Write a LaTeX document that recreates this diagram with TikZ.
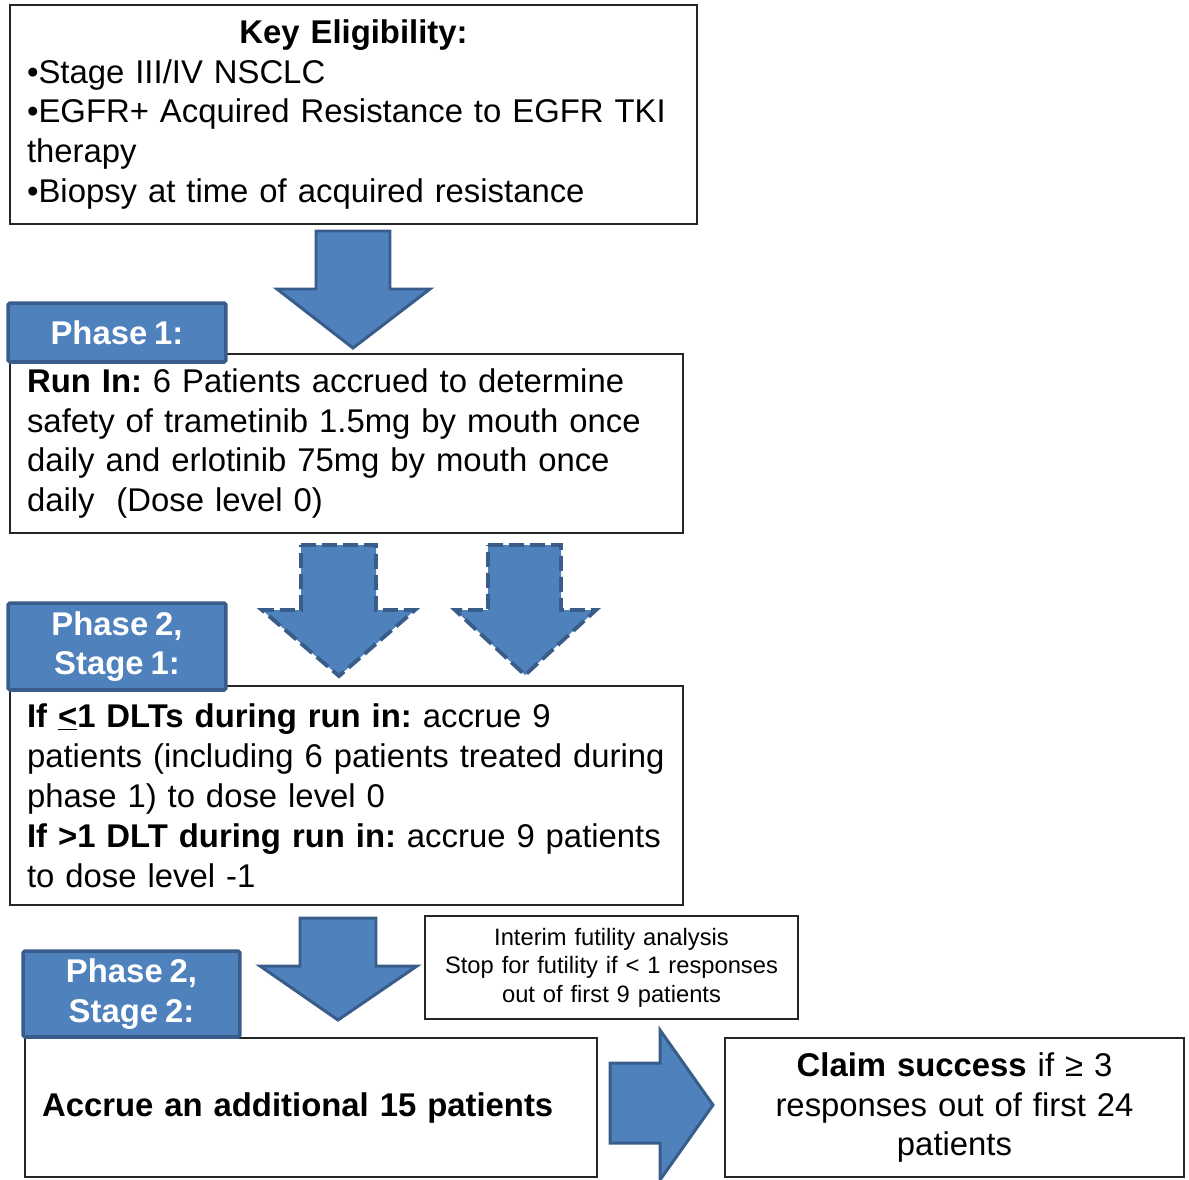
\documentclass[tikz,border=0pt]{standalone}
\usepackage{fontspec}
\setmainfont{Liberation Sans}[WordSpace=0.75]
\frenchspacing
\hyphenpenalty=10000
\definecolor{phasefill}{HTML}{4F81BD}
\definecolor{phaseline}{HTML}{385D8A}
\begin{document}
\begin{tikzpicture}[x=0.02cm,y=-0.02cm,
  txtbox/.style={draw=black!85,line width=0.8pt,fill=white,inner xsep=0.34cm,inner ysep=0pt,
    font=\fontsize{18.7}{22.76}\selectfont},
  phasebox/.style={draw=phaseline,fill=phasefill,line width=2pt,rounded corners=1pt,inner sep=0pt,
    text=white,align=center,font=\fontsize{18.7}{22.3}\selectfont\bfseries},
  bigarrow/.style={draw=phaseline,fill=phasefill,line width=1.7pt,line join=miter},
  dasharrow/.style={bigarrow,line width=2.2pt,dash pattern=on 0.3cm off 0.12cm}]
\useasboundingbox (0,0) rectangle (1189,1179);

%boxes
\node[txtbox,minimum width=13.74cm,minimum height=4.38cm,text width=13.06cm,align=left] (elig) at (353.5,114.5)
 {\makebox[\linewidth]{\bfseries Key Eligibility:}\\
  •Stage III/IV NSCLC\\
  •EGFR+ Acquired Resistance to EGFR TKI\\
  therapy\\
  •Biopsy at time of acquired resistance};
\node[txtbox,minimum width=13.46cm,minimum height=3.58cm,text width=12.78cm,align=left] (runin) at (346.5,443.5)
 {{\bfseries Run In:} 6 Patients accrued to determine\\
  safety of trametinib 1.5mg by mouth once\\
  daily and erlotinib 75mg by mouth once\\
  daily\ \ (Dose level 0)};
\node[txtbox,minimum width=13.46cm,minimum height=4.38cm,text width=12.78cm,align=left] (stageone) at (346.5,795.5)
 {{\bfseries If \underline{<}1 DLTs during run in:} accrue 9\\
  patients (including 6 patients treated during\\
  phase 1) to dose level 0\\
  {\bfseries If >1 DLT during run in:} accrue 9 patients\\
  to dose level -1};
\node[txtbox,minimum width=11.44cm,minimum height=2.78cm,text width=10.76cm,align=left] (stagetwo) at (311,1107.5)
 {\bfseries Accrue an additional 15 patients};
\node[txtbox,minimum width=9.18cm,minimum height=2.78cm,text width=8.5cm,align=center] (success) at (954.5,1107.5)
 {{\bfseries Claim success} if ≥ 3\\ responses out of first 24\\ patients};
\node[txtbox,minimum width=7.46cm,minimum height=2.06cm,text width=6.78cm,align=center,
  font=\fontsize{13.5}{16.2}\selectfont] (interim) at (611.5,967.5)
 {Interim futility analysis\\ Stop for futility if < 1 responses\\ out of first 9 patients};

%phase labels
\node[phasebox,minimum width=4.36cm,minimum height=1.18cm] (labelone) at (117,332.5) {Phase 1:};
\node[phasebox,minimum width=4.36cm,minimum height=1.74cm] (labeltwo) at (117,646.5) {Phase 2,\\ Stage 1:};
\node[phasebox,minimum width=4.34cm,minimum height=1.72cm] (labelthree) at (131.5,994) {Phase 2,\\ Stage 2:};

%arrows
\draw[bigarrow] (316,231) -- (390,231) -- (390,289) -- (430,289) -- (353,348) -- (277,289) -- (316,289) -- cycle;
\draw[dasharrow] (301,545) -- (376,545) -- (376,610) -- (415,610) -- (339,676) -- (262,610) -- (301,610) -- cycle;
\draw[dasharrow] (488,545) -- (561,545) -- (561,610) -- (596,610) -- (525,675) -- (455,610) -- (488,610) -- cycle;
\draw[bigarrow] (300,918) -- (376,918) -- (376,966) -- (417,966) -- (338,1020) -- (260,966) -- (300,966) -- cycle;
\draw[bigarrow] (610,1063) -- (660,1063) -- (660,1030) -- (713,1105) -- (660,1180) -- (660,1143) -- (610,1143) -- cycle;
\end{tikzpicture}
\end{document}
